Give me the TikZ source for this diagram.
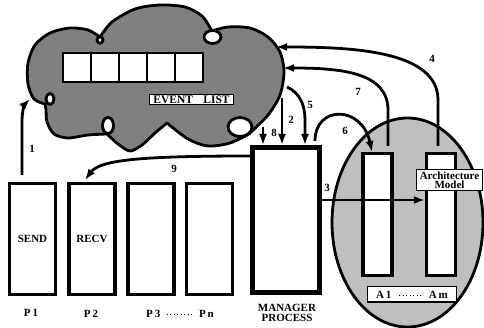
\documentclass[tikz,border=0pt]{standalone}
\usepackage{fontspec}
\setmainfont{Liberation Serif}
\usetikzlibrary{arrows.meta}
\newcommand\dotrow[1]{\foreach \k in {1,...,#1}{\rule[2.2pt]{1.1pt}{1.1pt}\hspace{2.4pt}}\unskip}
\begin{document}
\begin{tikzpicture}[x=1pt,y=-1pt,
  lbl/.style={font=\fontsize{11}{12}\selectfont\bfseries, inner sep=1pt, align=center},
  num/.style={font=\fontsize{11}{12}\selectfont\bfseries, inner sep=0pt},
  arr/.style={line width=2.8pt,-{Latex[length=11pt,width=8pt]}},
  proc/.style={draw,line width=3.2pt,inner sep=0pt,minimum width=46pt,minimum height=111pt,fill=white},
  col/.style={draw,line width=3.2pt,inner sep=0pt,minimum width=29pt,minimum height=122pt,fill=white},
  cell/.style={draw,line width=2.8pt,inner sep=0pt,minimum width=28pt,minimum height=29pt,fill=white},
  tag/.style={draw,line width=1pt,fill=white,font=\fontsize{11}{12}\selectfont\bfseries,inner xsep=3pt,inner ysep=1.5pt,align=center},
  loop/.style={draw,line width=2.8pt,fill=white}]
\useasboundingbox (0,0) rectangle (484,328);

% cloud
\draw[line width=2.8pt,fill=black!50,line join=round]
  plot[smooth] coordinates {(45,104) (34,99) (28,84) (28,63) (35,45) (50,33) (70,28) (88,30) (100,37)}
  -- plot[smooth] coordinates {(100,37) (112,22) (135,9) (160,5) (185,7) (202,16) (212,31)}
  -- plot[smooth] coordinates {(212,31) (228,27) (250,28) (268,37) (280,52) (284,72) (280,95) (268,115) (249,134)}
  -- plot[smooth] coordinates {(249,134) (230,143) (208,146) (188,139) (167,123)}
  -- plot[smooth] coordinates {(167,123) (155,133) (142,145) (130,151) (118,144) (107,134)}
  -- plot[smooth] coordinates {(107,134) (88,135) (68,138) (54,134) (47,122) (46,110) (45,104)}
  -- cycle;
\draw[loop] (100,40) ellipse (3 and 3.2);
\draw[loop] (212.5,37) ellipse (8.5 and 6.5);
\draw[loop] (240,127) ellipse (12 and 9.5);
\draw[loop] (108,125.5) ellipse (5.5 and 8);
\draw[loop] (50,99) ellipse (4 and 5.5);

% event list
\foreach \i in {1,...,5} {
  \node[cell] (cell\i) at (63+28*\i-14,67.5) {};
}
\node[tag,font=\fontsize{11.5}{12}\selectfont\bfseries,inner xsep=4pt] (evl) at (191.5,99.5) {EVENT\hspace{0.9em}LIST};

% architecture ellipse
\draw[line width=2.8pt,fill=black!25] (407.5,222.5) ellipse (75.5 and 104.5);

% boxes
\node[proc] (p1) at (32.5,239) {};
\node[proc] (p2) at (92,239) {};
\node[proc] (p3) at (151,239) {};
\node[proc] (pn) at (209.5,239) {};
\node[lbl] at (p1) {SEND};
\node[lbl] at (p2) {RECV};
\node[draw,line width=5pt,inner sep=0pt,minimum width=67pt,minimum height=145pt,fill=white] (mgr) at (286,220) {};
\node[col] (a1) at (377.5,214.5) {};
\node[col] (am) at (441,214.5) {};
\node[tag] (arch) at (449.5,180) {Architecture\\[-2.5pt]Model};
\node[tag,minimum width=89pt,minimum height=15pt] (alab) at (412,294.5) {A\,1\hspace{0.7em}\dotrow{7}\hspace{0.7em}A\,m};

% labels
\node[lbl] (l1) at (31,313) {P\,1};
\node[lbl] (l2) at (91,314) {P\,2};
\node[lbl] (l3) at (180,314) {P\,3\hspace{0.6em}\dotrow{8}\hspace{0.6em}P\,n};
\node[lbl] (lm) at (287,313) {MANAGER\\[-2.5pt]PROCESS};

% coordinates
\coordinate (s1) at (22,175);
\coordinate (e1) at (30,99);
\coordinate (s2) at (282,98);
\coordinate (s8) at (263,127);
\coordinate (s5) at (287,87);
\coordinate (e5) at (305,145);
\coordinate (s6) at (315,141);
\coordinate (e6) at (372,152);
\coordinate (s7) at (388,146);
\coordinate (e7) at (283,68);
\coordinate (s4) at (438,146);
\coordinate (e4) at (276,47);
\coordinate (s9) at (250,156);
\coordinate (e9) at (85,180);

% arrows
\draw[arr] (s1) -- (22,122) .. controls (22,110) and (25,104) .. (e1);
\draw[arr] (s2) -- (s2 |- mgr.north);
\draw[arr] (s8) -- (s8 |- mgr.north);
\draw[arr] (s5) .. controls (300,93) and (305,105) .. (305,120) -- (e5);
\draw[arr] (s6) .. controls (315,105) and (362,105) .. (e6);
\draw[arr] (s7) -- (388,110) .. controls (388,72) and (340,68) .. (e7);
\draw[arr] (s4) -- (438,100) .. controls (438,50) and (350,47) .. (e4);
\draw[arr] (mgr.east |- 0,200) -- (am.west |- 0,200);
\draw[arr] (s9) .. controls (140,156) and (100,160) .. (e9);

\node[num] at (32,149) {1};
\node[num] at (291,120) {2};
\node[num] at (327,188) {3};
\node[num] at (432,59) {4};
\node[num] at (310,105) {5};
\node[num] at (345,131) {6};
\node[num] at (358,92) {7};
\node[num] at (274,133) {8};
\node[num] at (174,169) {9};
\end{tikzpicture}
\end{document}
